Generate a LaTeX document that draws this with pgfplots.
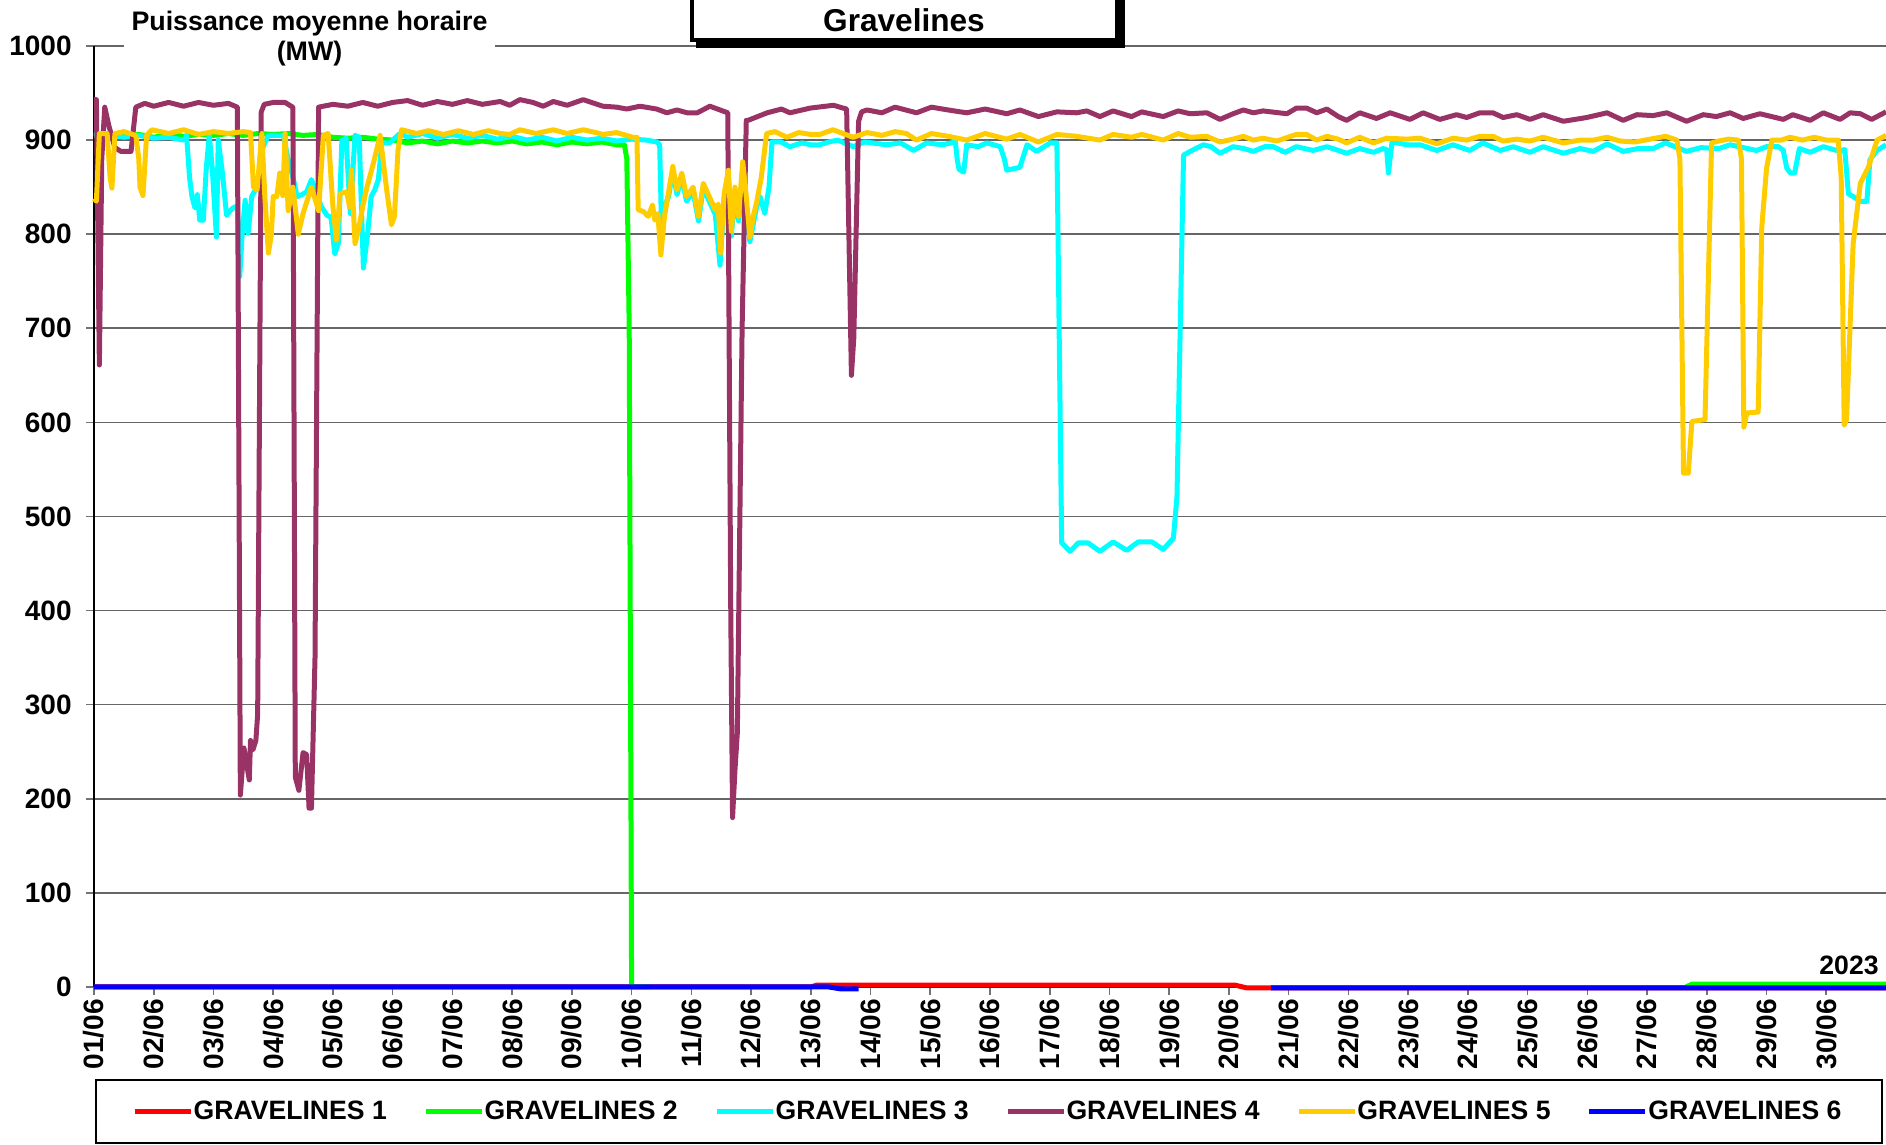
\documentclass[border=0pt]{standalone}
\usepackage{fontspec}
\setmainfont{Liberation Sans}
\usepackage{pgfplots}
\pgfplotsset{compat=1.18}
\definecolor{gvA}{HTML}{FF0000}
\definecolor{gvB}{HTML}{00FF00}
\definecolor{gvC}{HTML}{00FFFF}
\definecolor{gvD}{HTML}{993366}
\definecolor{gvE}{HTML}{FFCC00}
\definecolor{gvF}{HTML}{0000FF}
\begin{document}
\begin{tikzpicture}
% 1 px of the reference = 0.5pt, axis origin = (94,987) px
\useasboundingbox (-47pt,-79pt) rectangle (896pt,493.5pt);
\begin{axis}[
  at={(0pt,0pt)}, anchor=south west,
  scale only axis, width=896pt, height=470.5pt,
  xmin=1, xmax=31, ymin=0, ymax=1000,
  clip=false,
  axis lines*=left,
  axis line style={black, line width=0.6pt},
  ymajorgrids, grid style={black!60, line width=0.8pt},
  ytick={0,100,...,1000},
  xtick={1,...,30},
  xticklabels={01/06,02/06,03/06,04/06,05/06,06/06,07/06,08/06,09/06,10/06,11/06,12/06,13/06,14/06,15/06,16/06,17/06,18/06,19/06,20/06,21/06,22/06,23/06,24/06,25/06,26/06,27/06,28/06,29/06,30/06},
  tick align=outside,
  major tick length=4pt,
  tick style={black!55, line width=0.8pt},
  /pgf/number format/assume math mode=true,
  /pgf/number format/1000 sep={},
  yticklabel style={font=\fontsize{14}{16}\selectfont\bfseries, anchor=east, inner sep=0pt, xshift=-7pt},
  xticklabel style={font=\fontsize{14}{16}\selectfont\bfseries, yshift=-2pt, rotate=90, anchor=east, inner sep=0pt},
  unbounded coords=jump,
  every axis plot/.append style={line width=2.5pt, line join=round},
  legend columns=6,
  legend image code/.code={
    \draw[#1, line width=2.5pt] (0pt,0pt) -- (26.2pt,0pt);
    \draw[#1, line width=2.5pt, overlay] (26pt,0pt) -- (28pt,0pt);},
  legend style={draw=none, fill=none, at={(0.4994,-0.1323)}, anchor=center,
    font=\fontsize{13.3}{15}\selectfont\bfseries,
    /tikz/every even column/.append style={column sep=16.2pt}},
  legend cell align=left,
]
\addplot[gvA] coordinates {(1,0) (13,0) (13.1,2) (20.1,2) (20.3,-1) (31,-1)};
\addlegendentry{GRAVELINES 1}
\addplot[gvB] coordinates {
(1.00,905) (1.25,906) (1.5,904) (1.75,906) (2.0,903) (2.25,906) (2.5,904) (2.75,906)
(3.0,905) (3.25,907) (3.5,905) (3.75,907) (4.0,906) (4.25,907) (4.5,905) (4.75,906)
(5.0,903) (5.25,902) (5.5,903) (5.75,901) (6.0,900) (6.25,897) (6.5,899) (6.75,896)
(7.0,899) (7.25,897) (7.5,899) (7.75,897) (8.0,899) (8.25,896) (8.5,898) (8.75,895)
(9.0,898) (9.25,896) (9.5,898) (9.75,895) (9.88,895) (9.92,880) (9.96,700) (10.0,0)
(10.3,0) (10.5,nan) (27.6,nan) (27.65,0) (27.75,3) (31,3)};
\addlegendentry{GRAVELINES 2}
\addplot[gvC] coordinates {
(1.00,907) (1.25,906) (1.5,903) (1.75,905) (2.0,902) (2.25,903) (2.5,900) (2.55,905)
(2.60,860) (2.64,840) (2.69,828) (2.73,842) (2.77,815) (2.83,815) (2.88,870) (2.93,905)
(2.98,870) (3.05,797) (3.08,900) (3.15,865) (3.22,820) (3.28,825) (3.33,828) (3.40,830)
(3.44,755) (3.48,800) (3.53,836) (3.58,801) (3.64,840) (3.70,847) (3.76,860) (3.83,893)
(3.92,905) (4.0,905) (4.17,905) (4.25,880) (4.34,858) (4.40,840) (4.48,842) (4.56,845)
(4.64,858) (4.72,845) (4.80,830) (4.90,820) (4.97,818) (5.03,779) (5.09,790) (5.15,900)
(5.22,902) (5.29,822) (5.37,905) (5.44,903) (5.51,764) (5.58,800) (5.64,840) (5.70,847)
(5.76,858) (5.82,897) (5.95,897) (6.12,907) (6.25,903) (6.5,907) (6.75,902) (7.0,906)
(7.25,902) (7.5,905) (7.75,901) (8.0,904) (8.25,900) (8.5,903) (8.75,899) (9.0,903)
(9.25,900) (9.5,902) (9.75,899) (10.0,901) (10.25,900) (10.42,898) (10.47,895) (10.50,810)
(10.55,830) (10.62,840) (10.69,867) (10.76,842) (10.84,860) (10.92,835) (11.03,845) (11.12,814)
(11.20,849) (11.30,835) (11.40,821) (11.48,767) (11.55,838) (11.62,862) (11.67,798) (11.73,845)
(11.79,814) (11.86,855) (11.98,792) (12.09,828) (12.15,840) (12.23,822) (12.30,850) (12.35,898)
(12.5,898) (12.65,893) (12.85,897) (13.0,895) (13.15,895) (13.3,898) (13.45,900) (13.71,893)
(13.9,898) (14.27,895) (14.5,897) (14.72,889) (14.94,897) (15.2,895) (15.42,898) (15.45,880)
(15.48,869) (15.56,866) (15.61,895) (15.8,893) (15.95,897) (16.17,893) (16.24,880) (16.28,868)
(16.5,871) (16.62,895) (16.78,888) (17.01,897) (17.12,897) (17.2,472) (17.34,463) (17.48,472)
(17.64,472) (17.84,463) (18.06,473) (18.29,464) (18.48,473) (18.71,473) (18.90,465) (19.07,477)
(19.13,521) (19.24,884) (19.35,888) (19.57,895) (19.70,893) (19.85,886) (20.07,893) (20.25,891)
(20.41,888) (20.6,893) (20.74,893) (20.94,887) (21.13,893) (21.41,889) (21.64,893) (21.83,889)
(21.97,886) (22.19,891) (22.42,887) (22.58,891) (22.64,890) (22.67,865) (22.73,898) (22.98,895)
(23.2,895) (23.48,889) (23.75,895) (24.03,889) (24.25,897) (24.54,889) (24.76,893) (25.04,887)
(25.26,893) (25.6,886) (25.88,891) (26.1,888) (26.33,896) (26.6,888) (26.85,891) (27.1,891)
(27.31,897) (27.66,888) (27.9,892) (28.2,891) (28.39,895) (28.83,889) (29.0,893) (29.2,893)
(29.28,889) (29.34,870) (29.40,865) (29.47,865) (29.55,891) (29.73,887) (29.95,893) (30.23,888)
(30.31,890) (30.37,843) (30.45,840) (30.57,835) (30.68,835) (30.73,879) (30.85,889) (31.0,895)};
\addlegendentry{GRAVELINES 3}
\addplot[gvD] coordinates {
(1.00,943) (1.04,943) (1.09,661) (1.13,880) (1.18,935) (1.25,915) (1.35,892) (1.45,888)
(1.62,888) (1.70,935) (1.85,939) (2.0,936) (2.25,940) (2.5,936) (2.75,940) (3.0,937)
(3.25,939) (3.40,935) (3.45,204) (3.51,254) (3.60,220) (3.62,262) (3.66,252) (3.71,262)
(3.74,290) (3.80,930) (3.85,938) (4.0,940) (4.20,940) (4.30,936) (4.33,935) (4.37,223)
(4.43,209) (4.50,249) (4.56,247) (4.60,190) (4.64,190) (4.70,350) (4.76,935) (5.0,938)
(5.25,936) (5.5,940) (5.75,936) (6.0,940) (6.25,942) (6.5,937) (6.75,941) (7.0,938)
(7.25,942) (7.5,938) (7.80,941) (7.96,937) (8.13,943) (8.35,940) (8.52,936) (8.69,941)
(8.92,937) (9.19,943) (9.52,936) (9.75,935) (9.92,933) (10.14,936) (10.42,933) (10.59,929)
(10.76,932) (10.93,929) (11.10,929) (11.31,936) (11.61,929) (11.66,400) (11.69,180) (11.73,230)
(11.77,270) (11.85,700) (11.92,921) (11.95,921) (12.27,929) (12.51,933) (12.65,929) (12.99,934)
(13.38,937) (13.54,934) (13.60,933) (13.68,650) (13.72,690) (13.80,920) (13.85,930) (13.94,932)
(14.19,929) (14.41,935) (14.77,929) (15.02,935) (15.3,932) (15.61,929) (15.92,933) (16.28,928)
(16.50,932) (16.81,925) (17.12,930) (17.45,929) (17.62,931) (17.84,925) (18.06,931) (18.37,925)
(18.54,930) (18.90,925) (19.15,931) (19.35,928) (19.63,929) (19.85,922) (20.07,928) (20.24,932)
(20.41,929) (20.57,931) (20.97,928) (21.13,934) (21.30,934) (21.47,929) (21.64,933) (21.83,925)
(21.97,921) (22.19,929) (22.47,923) (22.70,929) (23.03,922) (23.25,929) (23.53,922) (23.81,927)
(23.98,924) (24.20,929) (24.42,929) (24.59,924) (24.82,927) (25.04,922) (25.26,927) (25.60,920)
(25.99,924) (26.33,929) (26.60,921) (26.83,927) (27.10,926) (27.33,929) (27.66,920) (27.94,927)
(28.16,925) (28.39,929) (28.61,923) (28.89,928) (29.28,922) (29.44,927) (29.73,921) (29.95,929)
(30.23,922) (30.40,929) (30.57,928) (30.76,922) (31.0,930)};
\addlegendentry{GRAVELINES 4}
\addplot[gvE] coordinates {
(1.00,838) (1.04,835) (1.09,907) (1.22,907) (1.27,860) (1.30,849) (1.35,907) (1.5,909)
(1.70,905) (1.75,880) (1.77,850) (1.82,841) (1.88,905) (1.97,911) (2.25,907) (2.5,911)
(2.75,906) (3.0,909) (3.25,907) (3.5,909) (3.62,908) (3.67,850) (3.73,847) (3.81,907)
(3.86,840) (3.92,780) (3.97,800) (4.0,840) (4.06,840) (4.11,865) (4.16,841) (4.20,907)
(4.25,825) (4.33,850) (4.42,800) (4.50,822) (4.64,850) (4.76,825) (4.84,905) (4.92,907)
(5.0,829) (5.06,794) (5.12,843) (5.23,845) (5.28,829) (5.31,868) (5.37,790) (5.43,805)
(5.50,830) (5.57,850) (5.68,876) (5.79,905) (5.90,847) (5.98,810) (6.03,819) (6.09,890)
(6.15,911) (6.4,907) (6.6,910) (6.85,906) (7.1,910) (7.35,906) (7.6,910) (7.80,907)
(7.96,906) (8.13,911) (8.4,907) (8.69,911) (8.92,907) (9.19,911) (9.4,908) (9.52,906)
(9.75,908) (10.02,903) (10.09,903) (10.11,826) (10.20,824) (10.28,819) (10.35,831) (10.39,815)
(10.44,822) (10.49,778) (10.55,819) (10.62,845) (10.69,872) (10.76,847) (10.84,865) (10.92,840)
(11.03,850) (11.12,819) (11.20,854) (11.30,840) (11.40,826) (11.45,832) (11.49,780) (11.55,843)
(11.62,868) (11.67,803) (11.73,850) (11.79,819) (11.86,877) (11.92,840) (11.98,797) (12.04,820)
(12.09,833) (12.17,860) (12.26,907) (12.4,909) (12.6,903) (12.8,908) (13.0,906) (13.15,906)
(13.37,911) (13.71,903) (13.94,908) (14.19,905) (14.41,909) (14.6,907) (14.77,900) (15.02,907)
(15.3,904) (15.61,900) (15.92,907) (16.28,901) (16.50,906) (16.81,898) (17.12,906) (17.45,904)
(17.84,900) (18.06,906) (18.37,903) (18.54,906) (18.90,900) (19.15,907) (19.35,903) (19.63,904)
(19.85,898) (20.07,901) (20.24,904) (20.41,900) (20.57,902) (20.8,899) (21.13,906) (21.30,906)
(21.47,900) (21.64,904) (21.83,901) (21.97,897) (22.19,903) (22.42,897) (22.64,902) (22.98,901)
(23.2,902) (23.48,896) (23.75,902) (23.98,900) (24.2,904) (24.42,904) (24.59,899) (24.82,901)
(25.04,899) (25.26,903) (25.60,897) (25.88,900) (26.10,900) (26.33,903) (26.55,899) (26.80,898)
(27.05,901) (27.31,904) (27.50,900) (27.55,880) (27.61,546) (27.69,546) (27.75,601) (27.97,603)
(28.08,897) (28.2,899) (28.36,901) (28.53,900) (28.58,880) (28.62,595) (28.67,610) (28.86,611)
(28.92,807) (29.0,870) (29.09,900) (29.25,900) (29.39,903) (29.6,900) (29.8,903) (30.0,900)
(30.20,900) (30.25,860) (30.30,597) (30.34,603) (30.45,790) (30.57,854) (30.71,872) (30.85,900)
(31.0,905)};
\addlegendentry{GRAVELINES 5}
\addplot[gvF] coordinates {(1,0) (13.3,0) (13.5,-2) (13.8,-2) (14,nan) (20.7,-1) (31,-1)};
\addlegendentry{GRAVELINES 6}
\end{axis}
% legend frame
\draw[black, line width=0.7pt] (1pt,-46.5pt) rectangle (894pt,-78pt);
% title box with shadow
\fill[black] (301pt,469.5pt) rectangle (515.5pt,500pt);
\draw[black, line width=2pt, fill=white] (299pt,473.5pt) rectangle (511.5pt,502pt);
\node[font=\fontsize{15.8}{18}\selectfont\bfseries, inner sep=0pt] at (405pt,483.3pt) {Gravelines};
% y label
\node[fill=white, align=center, font=\fontsize{13.4}{15}\selectfont\bfseries, inner xsep=4pt, inner ysep=2pt] at (107.75pt,474pt) {Puissance moyenne horaire\\(MW)};
\node[anchor=east, inner sep=0pt, font=\fontsize{13.3}{15}\selectfont\bfseries] at (892.5pt,11pt) {2023};
\end{tikzpicture}
\end{document}
